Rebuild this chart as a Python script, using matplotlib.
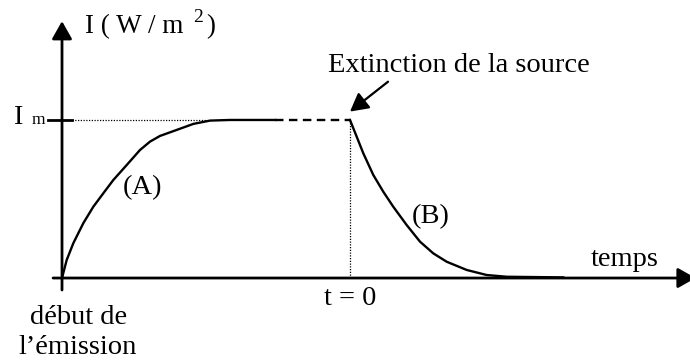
import matplotlib
matplotlib.use("Agg")
import matplotlib.pyplot as plt

plt.rcParams['font.family'] = ['Liberation Serif', 'DejaVu Serif']

# time in arbitrary units: 0 = début de l'émission, 10 = extinction (t = 0)
t_extinction = 10.0
i_max = 1.0

# curve (A): rise of intensity (solid part)
t_rise = [0.0, 0.163, 0.392, 0.740, 1.087, 1.434, 1.781, 2.247, 2.708, 3.056,
          3.403, 3.983, 4.559, 5.139, 5.833, 7.4]
i_rise = [0.0, 0.114, 0.220, 0.347, 0.451, 0.536, 0.620, 0.715, 0.810, 0.863,
          0.899, 0.937, 0.975, 0.996, 1.0, 1.0]

# dashed plateau up to extinction
t_plateau = [7.4, 10.0]
i_plateau = [1.0, 1.0]

# curve (B): decay after extinction
t_decay = [10.0, 10.233, 10.462, 10.809, 11.156, 11.503, 11.969, 12.431, 12.892,
           13.358, 14.052, 14.747, 15.441, 17.406]
i_decay = [1.0, 0.894, 0.789, 0.652, 0.546, 0.451, 0.335, 0.230, 0.156,
           0.103, 0.051, 0.019, 0.008, 0.004]

fig = plt.figure(figsize=(6.9, 3.61), dpi=100)
ax = fig.add_axes([0, 0, 1, 1])
ax.set_xlim(-2.153, 21.806)
ax.set_ylim(-0.525, 1.759)
ax.axis('off')

# axes with arrows
head = '-|>,head_length=0.6,head_width=0.34'
ax.annotate('', xy=(22.0, 0), xytext=(-0.31, 0), annotation_clip=False,
            arrowprops=dict(arrowstyle=head, lw=2.0, color='black',
                            mutation_scale=18, shrinkA=0, shrinkB=0))
ax.annotate('', xy=(0, 1.625), xytext=(0, -0.076), annotation_clip=False,
            arrowprops=dict(arrowstyle=head, lw=2.0, color='black',
                            mutation_scale=18, shrinkA=0, shrinkB=0))

# Im tick and dotted guides
ax.plot([-0.49, 0.35], [i_max, i_max], color='black', lw=2.0)
ax.plot([0.35, 5.0], [i_max, i_max], color='black', lw=0.9, linestyle=(0, (1, 1.2)))
ax.plot([t_extinction, t_extinction], [0, i_max], color='black', lw=0.9,
        linestyle=(0, (1, 1.2)))

# curves
ax.plot(t_rise, i_rise, color='black', lw=1.7, solid_joinstyle='round')
ax.plot(t_plateau, i_plateau, color='black', lw=1.7, linestyle=(0, (3.6, 2.3)))
ax.plot(t_decay, i_decay, color='black', lw=1.7, solid_joinstyle='round')

# arrow to extinction point
ax.annotate('', xy=(10.0, 1.053), xytext=(11.32, 1.242),
            arrowprops=dict(arrowstyle='-|>,head_length=0.55,head_width=0.3',
                            lw=1.6, color='black', mutation_scale=20,
                            shrinkA=0, shrinkB=0))

# labels
fs = 20.5
ax.text(0.80, 1.549, 'I ( W / m', fontsize=19.5, va='baseline', ha='left')
ax.text(4.57, 1.62, '2', fontsize=14, va='baseline', ha='left')
ax.text(5.0, 1.549, ')', fontsize=19.5, va='baseline', ha='left')
ax.text(-1.70, 0.975, 'I', fontsize=fs, va='baseline', ha='left')
ax.text(-1.06, 0.975, 'm', fontsize=12.5, va='baseline', ha='left')
ax.text(13.78, 1.302, 'Extinction de la source', fontsize=fs, va='baseline', ha='center')
ax.text(2.81, 0.532, '(A)', fontsize=fs, va='baseline', ha='center')
ax.text(12.81, 0.348, '(B)', fontsize=fs, va='baseline', ha='center')
ax.text(19.55, 0.075, 'temps', fontsize=fs, va='baseline', ha='center')
ax.text(10.0, -0.171, 't = 0', fontsize=fs, va='baseline', ha='center')
ax.text(0.56, -0.291, 'début de', fontsize=fs, va='baseline', ha='center')
ax.text(0.54, -0.483, 'l\u2019émission', fontsize=fs, va='baseline', ha='center')

fig.savefig('out.png', dpi=100)
